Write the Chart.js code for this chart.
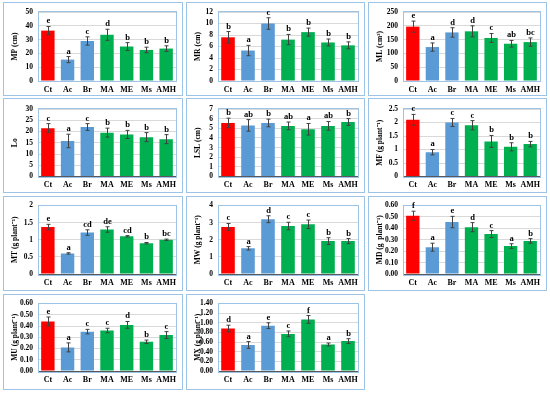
<!DOCTYPE html>
<html><head><meta charset="utf-8">
<script src="https://cdn.jsdelivr.net/npm/chart.js@4"></script>
<style>
html,body{margin:0;padding:0;background:#fff;}
#wrap{position:relative;width:550px;height:393px;overflow:hidden;background:#fff;}
canvas{position:absolute;}
</style></head><body><div id="wrap"></div>
<script>
const categories = ['Ct','Ac','Br','MA','ME','Ms','AMH'];
const barColors = ['#ff0000','#5b9bd5','#5b9bd5','#00b050','#00b050','#00b050','#00b050'];

const mpValues = [36.5, 15.5, 29, 33.5, 25, 22.5, 23.5];
const mpErrors = [3, 2.2, 3, 4, 2.8, 2, 2];
const mpLetters = ['e','a','c','d','b','b','b'];
const mpTicks = ['0','10','20','30','40','50'];

const mrValues = [7.6, 5.3, 10, 7.2, 8.5, 6.7, 6.2];
const mrErrors = [1, 0.9, 1, 0.9, 0.7, 0.6, 0.6];
const mrLetters = ['b','a','c','b','b','b','b'];
const mrTicks = ['0','2','4','6','8','10','12'];

const mlValues = [197, 123, 176, 180, 156, 135, 141];
const mlErrors = [20, 15, 17, 20, 16, 12, 15];
const mlLetters = ['e','a','d','d','c','ab','bc'];
const mlTicks = ['0','50','100','150','200','250'];

const loValues = [21.5, 15.8, 22, 19.5, 18.7, 17.5, 16.6];
const loErrors = [2, 3, 1.5, 2, 1.8, 2, 2];
const loLetters = ['c','a','c','b','b','b','b'];
const loTicks = ['0','5','10','15','20','25','30'];

const lslValues = [5.55, 5.3, 5.55, 5.25, 4.9, 5.25, 5.65];
const lslErrors = [0.5, 0.6, 0.4, 0.4, 0.6, 0.45, 0.35];
const lslLetters = ['b','ab','b','ab','a','ab','b'];
const lslTicks = ['0','1','2','3','4','5','6','7'];

const mfValues = [2.1, 0.9, 2.0, 1.9, 1.3, 1.1, 1.2];
const mfErrors = [0.2, 0.1, 0.15, 0.17, 0.22, 0.15, 0.1];
const mfLetters = ['c','a','c','c','b','b','b'];
const mfTicks = ['0','0.5','1','1.5','2','2.5'];

const mtValues = [1.37, 0.6, 1.21, 1.3, 1.1, 0.9, 1.0];
const mtErrors = [0.08, 0.02, 0.08, 0.08, 0.02, 0.02, 0.02];
const mtLetters = ['e','a','cd','de','cd','b','bc'];
const mtTicks = ['0','0.5','1','1.5','2'];

const mwValues = [2.75, 1.5, 3.2, 2.8, 2.9, 1.92, 1.92];
const mwErrors = [0.2, 0.1, 0.2, 0.22, 0.25, 0.2, 0.15];
const mwLetters = ['c','a','d','c','c','b','b'];
const mwTicks = ['0','1','2','3','4'];

const mdValues = [0.51, 0.235, 0.455, 0.41, 0.35, 0.245, 0.29];
const mdErrors = [0.04, 0.035, 0.05, 0.04, 0.03, 0.02, 0.02];
const mdLetters = ['f','a','e','d','c','a','b'];
const mdTicks = ['0.00','0.10','0.20','0.30','0.40','0.50','0.60'];

const muValues = [0.44, 0.21, 0.35, 0.36, 0.41, 0.26, 0.32];
const muErrors = [0.04, 0.04, 0.02, 0.02, 0.03, 0.015, 0.03];
const muLetters = ['e','a','c','c','d','b','c'];
const muTicks = ['0.00','0.10','0.20','0.30','0.40','0.50','0.60'];

const mxValues = [0.88, 0.54, 0.94, 0.77, 1.07, 0.55, 0.62];
const mxErrors = [0.07, 0.07, 0.06, 0.06, 0.08, 0.03, 0.05];
const mxLetters = ['d','a','e','c','f','a','b'];
const mxTicks = ['0.00','0.20','0.40','0.60','0.80','1.00','1.20','1.40'];

const panels = [
  {title:'MP (cm)', v:mpValues, e:mpErrors, l:mpLetters, t:mpTicks, max:50, step:10, col:0, row:0},
  {title:'MR (cm)', v:mrValues, e:mrErrors, l:mrLetters, t:mrTicks, max:12, step:2, col:1, row:0},
  {title:'ML (cm\u00b2)', v:mlValues, e:mlErrors, l:mlLetters, t:mlTicks, max:250, step:50, col:2, row:0},
  {title:'Lo', v:loValues, e:loErrors, l:loLetters, t:loTicks, max:30, step:5, col:0, row:1},
  {title:'LSL (cm)', v:lslValues, e:lslErrors, l:lslLetters, t:lslTicks, max:7, step:1, col:1, row:1},
  {title:'MF (g plant\u207b\u00b9)', v:mfValues, e:mfErrors, l:mfLetters, t:mfTicks, max:2.5, step:0.5, col:2, row:1},
  {title:'MT (g plant\u207b\u00b9)', v:mtValues, e:mtErrors, l:mtLetters, t:mtTicks, max:2, step:0.5, col:0, row:2},
  {title:'MW (g plant\u207b\u00b9)', v:mwValues, e:mwErrors, l:mwLetters, t:mwTicks, max:4, step:1, col:1, row:2},
  {title:'MD (g  plant\u207b\u00b9)', v:mdValues, e:mdErrors, l:mdLetters, t:mdTicks, max:0.6, step:0.1, col:2, row:2, top:205},
  {title:'MU (g plant\u207b\u00b9)', v:muValues, e:muErrors, l:muLetters, t:muTicks, max:0.6, step:0.1, col:0, row:3},
  {title:'MX (g plant\u207b\u00b9)', v:mxValues, e:mxErrors, l:mxLetters, t:mxTicks, max:1.4, step:0.2, col:1, row:3}
];

const colX = [3, 186, 368], colW = [180, 179, 179];
const plotL = [38, 218, 403], plotR = [176, 358, 540];
const titleX = [15, 198, 380];
const rowY = [2, 98, 196, 294], rowH = [94, 95, 95, 96];
const plotT = [12, 109, 203, 302], plotB = [81, 176.5, 274, 371];

const FONT = 'Liberation Serif, Times New Roman, serif';
const wrap = document.getElementById('wrap');

panels.forEach(p => {
  const px = colX[p.col], py = rowY[p.row], pw = colW[p.col], ph = rowH[p.row];
  const top = p.top || plotT[p.row];
  const cv = document.createElement('canvas');
  cv.width = pw; cv.height = ph;
  cv.style.left = px + 'px'; cv.style.top = py + 'px';
  cv.style.width = pw + 'px'; cv.style.height = ph + 'px';
  wrap.appendChild(cv);

  const deco = {
    id: 'deco',
    beforeDraw(chart) {
      const c = chart.ctx;
      c.save();
      c.fillStyle = '#fff'; c.fillRect(0, 0, pw, ph);
      c.strokeStyle = '#9dc3e6'; c.lineWidth = 1;
      c.strokeRect(0.5, 0.5, pw - 1, ph - 1);
      c.restore();
    },
    beforeDatasetsDraw(chart) {
      const a = chart.chartArea, c = chart.ctx;
      c.save();
      c.strokeStyle = '#9dc3e6'; c.lineWidth = 1;
      c.strokeRect(Math.round(a.left) + 0.5, Math.round(a.top) - 0.5, Math.round(a.right - a.left), Math.round(a.bottom - a.top) + 1);
      c.restore();
    },
    afterDatasetsDraw(chart) {
      const c = chart.ctx, ys = chart.scales.y;
      const meta = chart.getDatasetMeta(0);
      c.save();
      c.strokeStyle = '#404040'; c.lineWidth = 1;
      c.fillStyle = '#000';
      c.font = 'bold 8.5px ' + FONT;
      c.textAlign = 'center'; c.textBaseline = 'bottom';
      p.v.forEach((val, i) => {
        const x = Math.round(meta.data[i].x) + 0.5;
        const yt = ys.getPixelForValue(val + p.e[i]);
        const yb = ys.getPixelForValue(val - p.e[i]);
        c.beginPath();
        c.moveTo(x, yt); c.lineTo(x, yb);
        c.moveTo(x - 2, yt); c.lineTo(x + 2, yt);
        c.moveTo(x - 2, yb); c.lineTo(x + 2, yb);
        c.stroke();
        c.fillText(p.l[i], x, yt - 1);
      });
      const a = chart.chartArea;
      c.translate(titleX[p.col] - px, (a.top + a.bottom) / 2);
      c.rotate(-Math.PI / 2);
      c.textBaseline = 'middle';
      c.font = 'bold 7.5px ' + FONT;
      c.fillText(p.title, 0, 0);
      c.restore();
    }
  };

  new Chart(cv, {
    type: 'bar',
    data: {
      labels: categories,
      datasets: [{ data: p.v, backgroundColor: barColors, borderWidth: 0, barPercentage: 0.68, categoryPercentage: 1 }]
    },
    options: {
      responsive: false, animation: false, devicePixelRatio: 1,
      layout: { padding: { left: 0, right: px + pw - plotR[p.col], top: top - py, bottom: 0 } },
      plugins: { legend: { display: false }, tooltip: { enabled: false } },
      scales: {
        x: {
          grid: { display: false, drawTicks: false },
          border: { display: true, color: '#595959', width: 1 },
          ticks: { color: '#000', font: { family: FONT, weight: 'bold', size: 8 }, padding: 4, maxRotation: 0, autoSkip: false },
          afterFit: s => { s.height = py + ph - plotB[p.row]; }
        },
        y: {
          min: 0, max: p.max,
          grid: { color: '#d9d9d9', drawTicks: false },
          border: { display: false },
          ticks: { stepSize: p.step, color: '#000', padding: 5, autoSkip: false,
            font: { family: FONT, weight: 'bold', size: 7.5 },
            callback: (val, idx) => p.t[idx] },
          afterFit: s => { s.width = plotL[p.col] - px; }
        }
      }
    },
    plugins: [deco]
  });
});
</script></body></html>
